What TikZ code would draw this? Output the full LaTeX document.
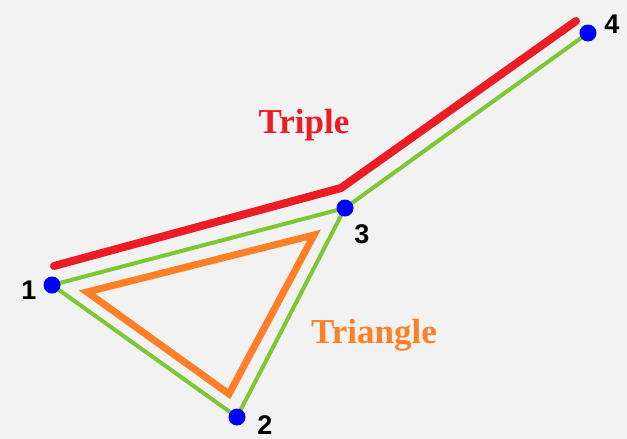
\documentclass[tikz,border=0pt]{standalone}
\usepackage{fontspec}
\setmainfont{Liberation Serif}
\newfontfamily\digitfont{Liberation Sans}
\definecolor{bgc}{HTML}{F2F2F2}
\definecolor{gline}{HTML}{7DC832}
\definecolor{rline}{HTML}{EC1C24}
\definecolor{oline}{HTML}{FF7F27}
\definecolor{dotc}{HTML}{0000FF}
\begin{document}
\begin{tikzpicture}[x=1pt,y=-1pt,
  dot/.style={circle,fill=dotc,inner sep=0pt,minimum size=17pt},
  num/.style={font=\digitfont\bfseries\fontsize{27}{27}\selectfont,inner sep=0pt},
  lbl/.style={font=\bfseries\fontsize{35}{35}\selectfont,inner sep=0pt},
  gedge/.style={draw=gline,line width=4pt}]
\fill[bgc] (0,0) rectangle (627,439);
\useasboundingbox (0,0) rectangle (627,439);
\coordinate (c1) at (52,285);
\coordinate (c2) at (237,417);
\coordinate (c3) at (345,208);
\coordinate (c4) at (588,33);
% red triple line
\draw[rline,line width=8pt,line cap=round,line join=round] (54,266) -- (341,188) -- (576,21);
% orange triangle
\draw[oline,line width=7pt,line join=miter] (87,292) -- (229,394) -- (314,235) -- cycle;
% green edges
\path[gedge] (c1) -- (c2);
\path[gedge] (c2) -- (c3);
\path[gedge] (c3) -- (c1);
\path[gedge] (c3) -- (c4);
% dots
\node[dot] (n1) at (c1) {};
\node[dot] (n2) at (c2) {};
\node[dot] (n3) at (c3) {};
\node[dot] (n4) at (c4) {};
% labels
\node[num] (l1) at (29,290) {1};
\node[num] (l2) at (265,425) {2};
\node[num] (l3) at (362,234) {3};
\node[num] (l4) at (612,24) {4};
\node[lbl,text=rline,anchor=base] (t1) at (304,133) {Triple};
\node[lbl,text=oline,anchor=base] (t2) at (374,343) {Triangle};
\end{tikzpicture}
\end{document}
